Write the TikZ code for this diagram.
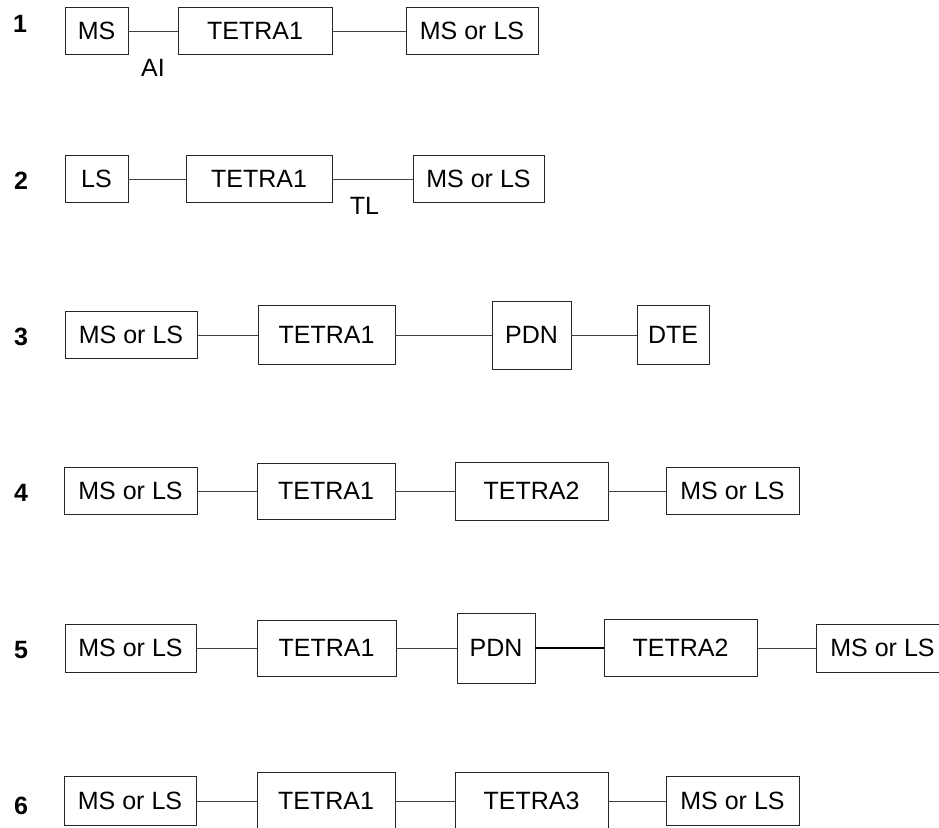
\documentclass[tikz,border=0pt]{standalone}
\usepackage{fontspec}
\setmainfont{Liberation Sans}
\usetikzlibrary{positioning}
\newcommand{\diagfont}{\fontsize{25}{30}\selectfont}

\begin{document}
\begin{tikzpicture}[
	x=1pt, y=1pt,
	box/.style = {
		draw=black!85,
		line width=0.8pt,
		inner sep=0pt,
		outer sep=0pt,
		minimum height=47pt,
		font=\diagfont,
	},
	link/.style = {black!75, line width=0.8pt},
	rowno/.style = {font=\diagfont\bfseries},
	tag/.style = {font=\diagfont, text=black, inner sep=2pt},
]
\useasboundingbox (0,0) rectangle (939,-827);

% Row 1
\node [rowno] (n1) at (20,-24) {1};
\node [box, minimum width=63pt] (ms1) at (96.5,-31) {MS};
\node [box, minimum width=154pt, right=50pt of ms1] (tetraA1) {TETRA1};
\node [box, minimum width=132pt, right=74pt of tetraA1] (ls1) {MS or LS};
\draw[link] (ms1) -- node[tag, below=26pt] (ai) {AI} (tetraA1);
\draw[link] (tetraA1) -- (ls1);

% Row 2
\node [rowno] (n2) at (21,-181) {2};
\node [box, minimum width=63pt] (ls2) at (96.5,-179) {LS};
\node [box, minimum width=146pt, right=58pt of ls2] (tetraA2) {TETRA1};
\node [box, minimum width=131pt, right=81pt of tetraA2] (msls2) {MS or LS};
\draw[link] (ls2) -- (tetraA2);
\draw[link] (tetraA2) -- node[tag, pos=0.4, below=16pt] (tl) {TL} (msls2);

% Row 3
\node [rowno] (n3) at (21,-337) {3};
\node [box, minimum width=132pt] (msls3) at (131,-335) {MS or LS};
\node [box, minimum width=137pt, minimum height=59pt, right=61pt of msls3] (tetraA3) {TETRA1};
\node [box, minimum width=79pt, minimum height=68pt, right=97pt of tetraA3] (pdn3) {PDN};
\node [box, minimum width=72pt, minimum height=59pt, right=66pt of pdn3] (dte3) {DTE};
\draw[link] (msls3) -- (tetraA3);
\draw[link] (tetraA3) -- (pdn3);
\draw[link] (pdn3) -- (dte3);

% Row 4
\node [rowno] (n4) at (21,-493) {4};
\node [box, minimum width=133pt] (msls4) at (130.5,-491) {MS or LS};
\node [box, minimum width=138pt, minimum height=56pt, right=60pt of msls4] (tetraA4) {TETRA1};
\node [box, minimum width=153pt, minimum height=58pt, right=60pt of tetraA4] (tetraB4) {TETRA2};
\node [box, minimum width=133pt, right=58pt of tetraB4] (lsms4) {MS or LS};
\draw[link] (msls4) -- (tetraA4);
\draw[link] (tetraA4) -- (tetraB4);
\draw[link] (tetraB4) -- (lsms4);

% Row 5
\node [rowno] (n5) at (21,-650) {5};
\node [box, minimum width=131pt, minimum height=48pt] (msls5) at (130.5,-648) {MS or LS};
\node [box, minimum width=139pt, minimum height=56pt, right=61pt of msls5] (tetraA5) {TETRA1};
\node [box, minimum width=78pt, minimum height=70pt, right=61pt of tetraA5] (pdn5) {PDN};
\node [box, minimum width=153pt, minimum height=57pt, right=69pt of pdn5] (tetraB5) {TETRA2};
\node [box, minimum width=133pt, minimum height=48pt, right=59pt of tetraB5] (lsms5) {MS or LS};
\draw[link] (msls5) -- (tetraA5);
\draw[link] (tetraA5) -- (pdn5);
\draw[black, line width=2.4pt] (pdn5) -- (tetraB5);
\draw[link] (tetraB5) -- (lsms5);

% Row 6
\node [rowno] (n6) at (21,-806) {6};
\node [box, minimum width=132pt, minimum height=49pt] (msls6) at (130,-801) {MS or LS};
\node [box, minimum width=138pt, minimum height=57pt, right=61pt of msls6] (tetraA6) {TETRA1};
\node [box, minimum width=153pt, minimum height=57pt, right=60pt of tetraA6] (tetraC6) {TETRA3};
\node [box, minimum width=133pt, minimum height=49pt, right=58pt of tetraC6] (lsms6) {MS or LS};
\draw[link] (msls6) -- (tetraA6);
\draw[link] (tetraA6) -- (tetraC6);
\draw[link] (tetraC6) -- (lsms6);

\end{tikzpicture}
\end{document}
